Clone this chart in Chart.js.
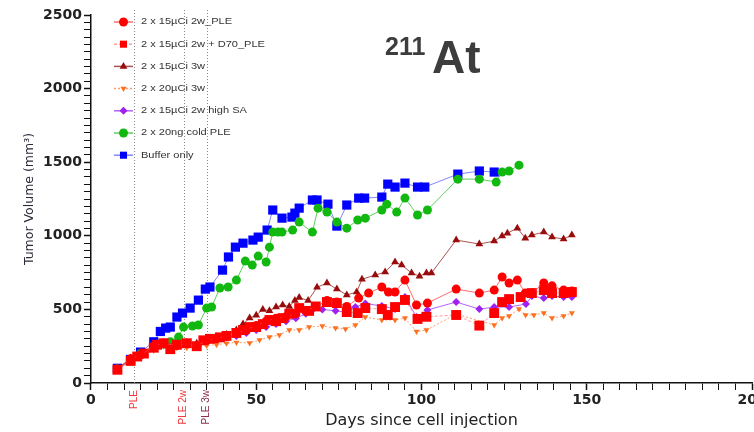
<!DOCTYPE html>
<html>
<head>
<meta charset="utf-8">
<script src="https://cdn.jsdelivr.net/npm/chart.js@4.4.1/dist/chart.umd.min.js"></script>
<style>
  html, body { margin: 0; padding: 0; background: #fff; overflow: hidden; }
  #wrap { position: relative; width: 770px; height: 432px; }
  .iso { position: absolute; font-family: "Liberation Sans", Arial, sans-serif; font-weight: bold; color: #3d3d3d; white-space: nowrap; }
  #iso211 { left: 385px; top: 34px; font-size: 25px; line-height: 25px; }
  #isoAt { left: 432px; top: 34px; font-size: 46px; line-height: 46px; }
</style>
</head>
<body>
<div id="wrap">
  <canvas id="chart" width="770" height="432"></canvas>
  <div class="iso" id="iso211">211</div>
  <div class="iso" id="isoAt">At</div>
</div>
<script>
"use strict";

// Group labels (legend order)
const groupNames = [
  "2 x 15µCi 2w_PLE",
  "2 x 15µCi 2w + D70_PLE",
  "2 x 15µCi 3w",
  "2 x 20µCi 3w",
  "2 x 15µCi 2w high SA",
  "2 x 20ng cold PLE",
  "Buffer only",
];

// Days after cell injection + tumor volume (mm³)
const ple2wDays = [8, 12, 15, 19, 22, 26, 29, 32, 35, 38, 41, 44, 47, 50, 53, 56, 59, 62, 65, 68, 71.4, 74.4, 77.4, 81, 84, 88, 90, 92, 95, 98.5, 101.8, 110.5, 117.5, 122, 124.4, 126.5, 129, 131.4, 133.4, 137, 139.5, 143, 145.5];
const ple2wVol  = [95, 165, 190, 250, 270, 255, 270, 250, 290, 300, 320, 340, 360, 390, 420, 440, 450, 470, 490, 520, 560, 550, 520, 577, 611, 652, 618, 618, 699, 530, 543, 638, 611, 631, 720, 679, 699, 611, 611, 679, 660, 631, 625];

const d70Days = [8, 12, 14, 16, 19, 20, 22, 24, 26, 29, 32, 34, 36, 39, 41, 44, 46, 48, 50, 52, 54, 56, 58, 60, 63, 66, 68, 71.4, 74.4, 77.4, 80.7, 83, 88, 89.8, 92, 95, 98.8, 101.5, 110.5, 117.5, 122, 124.4, 126.5, 130, 133.4, 137, 139.5, 143, 145.5];
const d70Vol  = [90, 150, 180, 200, 240, 260, 270, 230, 260, 270, 250, 290, 300, 310, 320, 340, 360, 380, 380, 400, 428, 420, 441, 470, 509, 490, 520, 550, 543, 482, 475, 509, 502, 462, 516, 564, 435, 450, 462, 390, 475, 550, 570, 584, 611, 631, 611, 611, 618];

const w3Days = [8, 12, 15, 19, 22, 26, 29, 32, 35, 38, 41, 44, 46, 48, 50, 52, 54, 56, 58, 60, 61.7, 63, 65.7, 68.4, 71.4, 74.4, 77.4, 80.4, 82, 86, 89, 92, 94, 97, 99.4, 101.5, 103, 110.5, 117.5, 122, 124.4, 126, 129, 131.4, 133.4, 137, 139.5, 143, 145.5];
const w3Vol  = [95, 170, 200, 250, 275, 260, 275, 270, 300, 315, 330, 360, 400, 441, 460, 500, 490, 516, 530, 520, 560, 580, 560, 650, 679, 638, 598, 618, 705, 733, 754, 822, 801, 747, 726, 747, 747, 971, 944, 964, 998, 1018, 1052, 984, 1005, 1025, 991, 978, 1005];

const uci20Days = [8, 12, 15, 19, 22, 26, 29, 32, 35, 38, 41, 44, 48, 51, 54, 57, 60, 63, 66, 70, 74, 77, 80, 83, 88, 92, 95, 98.5, 101.5, 110.5, 122, 124.4, 126.5, 129.5, 131.5, 134, 137, 139.5, 143, 145.5];
const uci20Vol  = [95, 150, 180, 220, 250, 240, 240, 245, 255, 260, 270, 275, 272, 292, 312, 326, 360, 360, 380, 387, 373, 367, 394, 448, 428, 428, 441, 350, 360, 468, 394, 441, 455, 502, 462, 462, 475, 441, 455, 475];

const highSaDays = [8, 12, 15, 19, 22, 26, 29, 32, 35, 38, 41, 44, 47, 50, 53, 56, 59, 62, 65, 67, 70, 74, 77.4, 80, 83, 88, 92, 95, 98.5, 101.8, 110.5, 117.5, 122, 126.5, 131.6, 133.4, 137, 139.5, 143, 145.5];
const highSaVol  = [95, 150, 190, 240, 260, 250, 265, 260, 285, 295, 310, 320, 340, 360, 380, 400, 420, 440, 470, 496, 500, 490, 480, 516, 540, 523, 502, 585, 448, 496, 550, 502, 516, 516, 536, 591, 577, 591, 584, 584];

const coldDays = [8, 12, 15, 19, 22, 24, 26.5, 28, 30.7, 32.5, 35, 36.5, 39, 41.5, 44, 46.7, 48.8, 50.6, 53, 54, 55, 56.6, 57.8, 61, 63, 67, 68.7, 71.4, 74.4, 77.4, 80.7, 83, 88, 89.5, 92.5, 95, 98.8, 101.8, 111, 117.5, 122.6, 124.4, 126.5, 129.5];
const coldVol  = [95, 160, 200, 250, 265, 280, 312, 380, 387, 394, 509, 516, 645, 652, 699, 828, 801, 862, 822, 923, 1025, 1025, 1025, 1039, 1093, 1025, 1188, 1161, 1093, 1052, 1107, 1120, 1175, 1215, 1161, 1256, 1141, 1175, 1385, 1385, 1365, 1433, 1440, 1480];

const bufferDays = [8, 12, 15, 19, 21, 22.6, 24, 26, 27.7, 30, 32.5, 34.6, 36, 39.8, 41.6, 43.7, 46, 49, 50.6, 53.3, 55, 57.8, 60.8, 61.7, 63, 67, 68.4, 71.7, 74.4, 77.4, 81, 82.8, 88, 89.8, 92, 95, 98.8, 101, 111, 117.5, 122];
const bufferVol  = [100, 160, 210, 280, 350, 373, 380, 448, 475, 509, 563, 638, 652, 767, 856, 923, 950, 971, 991, 1039, 1175, 1120, 1127, 1154, 1188, 1243, 1243, 1215, 1066, 1209, 1256, 1256, 1263, 1351, 1331, 1358, 1331, 1331, 1419, 1440, 1433];

// Treatment markers on the x axis
const treatmentDays = [13, 28, 35];
const treatmentLabels = ["PLE", "PLE 2w", "PLE 3w"];
const treatmentColors = ["#f0393f", "#f0393f", "#8a3050"];

const pairs = (days, vals) => days.map((d, i) => ({ x: d, y: vals[i] }));

const series = [
  { days: ple2wDays, vals: ple2wVol, color: "#ff0000", line: "rgba(255,70,70,0.8)", style: "circle", r: 4.5 },
  { days: d70Days, vals: d70Vol, color: "#ff0000", line: "rgba(255,130,130,0.8)", style: "rect", r: 7, dash: [3, 2] },
  { days: w3Days, vals: w3Vol, color: "#9a0c0c", line: "rgba(150,40,40,0.8)", style: "triangle", r: 4.5 },
  { days: uci20Days, vals: uci20Vol, color: "#ff7020", line: "rgba(255,130,60,0.8)", style: "triangle", r: 3.5, rot: 180, dash: [2, 2] },
  { days: highSaDays, vals: highSaVol, color: "#a020f0", line: "rgba(160,60,240,0.8)", style: "rectRot", r: 4 },
  { days: coldDays, vals: coldVol, color: "#10b810", line: "rgba(40,190,40,0.75)", style: "circle", r: 4.5 },
  { days: bufferDays, vals: bufferVol, color: "#0000ff", line: "rgba(80,80,255,0.7)", style: "rect", r: 6.5 },
];

const datasets = series.map((s, i) => ({
  label: groupNames[i],
  data: pairs(s.days, s.vals),
  borderColor: s.line,
  borderWidth: 1,
  borderDash: s.dash || [],
  backgroundColor: s.color,
  pointStyle: s.style,
  pointRadius: s.r,
  pointRotation: s.rot || 0,
  pointBackgroundColor: s.color,
  pointBorderColor: s.color,
  pointBorderWidth: 0,
  tension: 0,
  fill: false,
}));

// Dotted treatment lines + rotated labels under the axis
const treatmentPlugin = {
  id: "treatments",
  beforeDatasetsDraw(chart) {
    const { ctx, chartArea, scales } = chart;
    ctx.save();
    ctx.strokeStyle = "#888";
    ctx.lineWidth = 1;
    ctx.setLineDash([1, 2]);
    treatmentDays.forEach((d) => {
      const px = Math.round(scales.x.getPixelForValue(d)) + 0.5;
      ctx.beginPath();
      ctx.moveTo(px, chartArea.top - 5);
      ctx.lineTo(px, chartArea.bottom);
      ctx.stroke();
    });
    ctx.restore();
  },
  afterDraw(chart) {
    const { ctx, chartArea, scales } = chart;
    ctx.save();
    ctx.font = "10px 'Liberation Sans', Arial, sans-serif";
    ctx.textAlign = "right";
    ctx.textBaseline = "middle";
    treatmentDays.forEach((d, i) => {
      const px = scales.x.getPixelForValue(d);
      ctx.save();
      ctx.translate(px, chartArea.bottom + 7);
      ctx.rotate(-Math.PI / 2);
      ctx.fillStyle = treatmentColors[i];
      ctx.fillText(treatmentLabels[i], 0, 0);
      ctx.restore();
    });
    ctx.restore();
  },
};

// Legend drawn inside the plot, top-left
const legendPlugin = {
  id: "innerLegend",
  afterDraw(chart) {
    const { ctx } = chart;
    ctx.save();
    chart.data.datasets.forEach((ds, i) => {
      const y = 22 + i * 22.2;
      ctx.strokeStyle = ds.borderColor;
      ctx.lineWidth = 1.5;
      ctx.setLineDash(ds.borderDash || []);
      ctx.beginPath();
      ctx.moveTo(114, y);
      ctx.lineTo(133, y);
      ctx.stroke();
      ctx.setLineDash([]);
      ctx.fillStyle = ds.pointBackgroundColor;
      ctx.strokeStyle = ds.pointBackgroundColor;
      Chart.helpers.drawPoint(ctx, {
        pointStyle: ds.pointStyle,
        radius: Math.min(ds.pointRadius, 5),
        rotation: ds.pointRotation,
        borderWidth: 0,
      }, 123.5, y);
      ctx.save();
      ctx.translate(141, y);
      ctx.scale(1.3, 1);
      ctx.fillStyle = "#333";
      ctx.font = "8.5px 'Liberation Sans', Arial, sans-serif";
      ctx.textBaseline = "middle";
      ctx.fillText(ds.label, 0, 0);
      ctx.restore();
    });
    ctx.restore();
  },
};

const tickFont = { family: "'DejaVu Sans', sans-serif", size: 14, weight: "bold" };

new Chart(document.getElementById("chart"), {
  type: "line",
  data: { datasets },
  options: {
    responsive: false,
    animation: false,
    layout: { padding: { left: 18, top: 15, right: 18, bottom: 0 } },
    plugins: { legend: { display: false }, tooltip: { enabled: false } },
    scales: {
      x: {
        type: "linear",
        min: 0,
        max: 200,
        border: { color: "#111", width: 1.5 },
        grid: {
          drawOnChartArea: false,
          tickLength: 7,
          tickColor: "#111",
          tickWidth: (c) => (c.tick && c.tick.value % 50 === 0 ? 1.5 : 1),
        },
        ticks: {
          stepSize: 5,
          autoSkip: false,
          maxRotation: 0,
          padding: 2,
          color: "#222",
          font: tickFont,
          callback: (v) => (v % 50 === 0 ? v : ""),
        },
        title: {
          display: true,
          text: "Days since cell injection",
          color: "#222",
          font: { family: "'DejaVu Sans', sans-serif", size: 16 },
          padding: { top: 0, bottom: 2 },
        },
      },
      y: {
        min: 0,
        max: 2500,
        border: { color: "#111", width: 1.5 },
        grid: {
          drawOnChartArea: false,
          tickLength: 7,
          tickColor: "#111",
          tickWidth: (c) => (c.tick && c.tick.value % 500 === 0 ? 1.5 : 1),
        },
        ticks: {
          stepSize: 50,
          autoSkip: false,
          padding: 2,
          color: "#222",
          font: tickFont,
          callback: (v) => (v % 500 === 0 ? v : ""),
        },
        title: {
          display: true,
          text: "Tumor Volume (mm³)",
          color: "#2a2a3a",
          font: { family: "'DejaVu Sans', sans-serif", size: 12.5 },
          padding: { top: 4, bottom: 4 },
        },
      },
    },
  },
  plugins: [treatmentPlugin, legendPlugin],
});
</script>
</body>
</html>
